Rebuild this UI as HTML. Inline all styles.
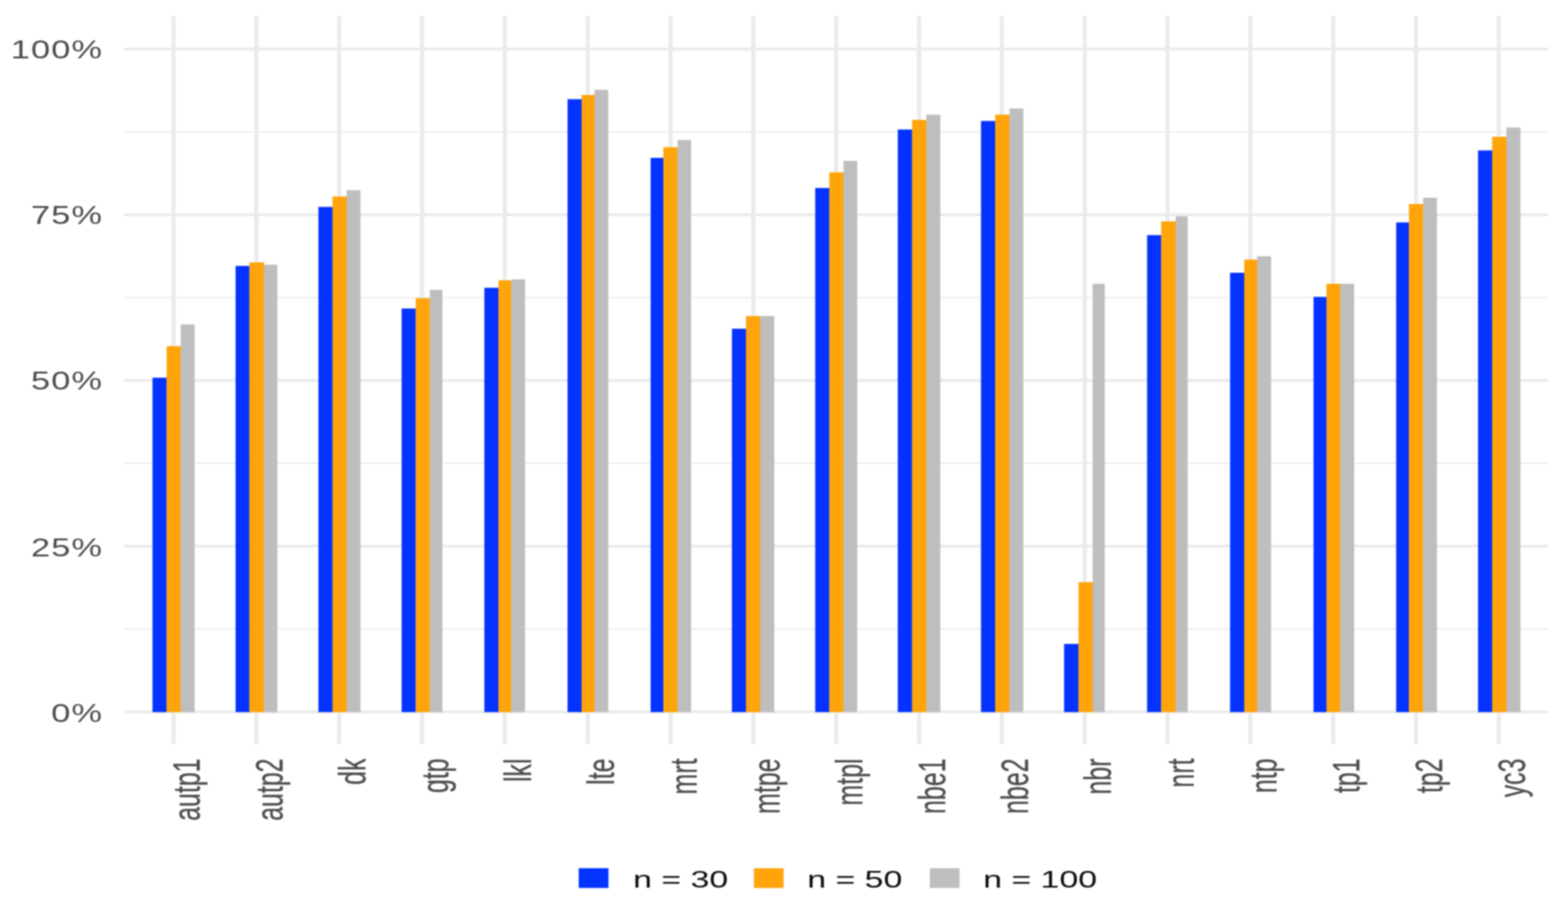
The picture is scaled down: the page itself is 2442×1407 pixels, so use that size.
<!DOCTYPE html>
<html lang="en"><head><meta charset="utf-8"><title>Bar chart</title>
<style>
html,body{margin:0;padding:0;background:#fff;overflow:hidden}
body{width:2442px;height:1407px}
svg{display:block}
text{font-family:"Liberation Sans","DejaVu Sans",sans-serif}
.ax{font-size:38.9px;fill:#4d4d4d;stroke:#4d4d4d;stroke-width:0.3;stroke-linejoin:round}
.ay{font-size:41.2px;letter-spacing:1.35px;stroke:#4d4d4d;stroke-width:0;stroke-linejoin:round}
.lg{font-size:37px;fill:#0d0d0d;stroke:#0d0d0d;stroke-width:0;stroke-linejoin:round}
</style></head><body>
<svg width="2442" height="1407" viewBox="0 0 2442 1407">
<defs><filter id="soft" x="-2%" y="-2%" width="104%" height="104%" color-interpolation-filters="sRGB"><feGaussianBlur stdDeviation="0.8"/></filter><filter id="softt" x="-5%" y="-5%" width="110%" height="110%" color-interpolation-filters="sRGB"><feGaussianBlur stdDeviation="0.8"/></filter></defs>
<rect x="0" y="0" width="2442" height="1407" fill="#ffffff"/>
<g filter="url(#soft)">
<g fill="#ebebeb">
<rect x="193.6" y="204.50" width="2217.4" height="2.00"/>
<rect x="193.6" y="462.70" width="2217.4" height="2.00"/>
<rect x="193.6" y="720.90" width="2217.4" height="2.00"/>
<rect x="193.6" y="979.10" width="2217.4" height="2.00"/>
<rect x="193.6" y="74.10" width="2217.4" height="4.60"/>
<rect x="193.6" y="332.30" width="2217.4" height="4.60"/>
<rect x="193.6" y="590.50" width="2217.4" height="4.60"/>
<rect x="193.6" y="848.70" width="2217.4" height="4.60"/>
<rect x="193.6" y="1106.90" width="2217.4" height="4.60"/>
<rect x="267.00" y="25.2" width="6.60" height="1134.5"/>
<rect x="396.00" y="25.2" width="6.60" height="1134.5"/>
<rect x="525.00" y="25.2" width="6.60" height="1134.5"/>
<rect x="654.00" y="25.2" width="6.60" height="1134.5"/>
<rect x="783.00" y="25.2" width="6.60" height="1134.5"/>
<rect x="912.00" y="25.2" width="6.60" height="1134.5"/>
<rect x="1041.00" y="25.2" width="6.60" height="1134.5"/>
<rect x="1170.00" y="25.2" width="6.60" height="1134.5"/>
<rect x="1299.00" y="25.2" width="6.60" height="1134.5"/>
<rect x="1428.00" y="25.2" width="6.60" height="1134.5"/>
<rect x="1557.00" y="25.2" width="6.60" height="1134.5"/>
<rect x="1686.00" y="25.2" width="6.60" height="1134.5"/>
<rect x="1815.00" y="25.2" width="6.60" height="1134.5"/>
<rect x="1944.00" y="25.2" width="6.60" height="1134.5"/>
<rect x="2073.00" y="25.2" width="6.60" height="1134.5"/>
<rect x="2202.00" y="25.2" width="6.60" height="1134.5"/>
<rect x="2331.00" y="25.2" width="6.60" height="1134.5"/>
</g>
<g fill="#0433ff">
<rect x="237.5" y="588.5" width="22.2" height="521.1"/>
<rect x="366.9" y="414.3" width="21.8" height="695.3"/>
<rect x="495.9" y="322.4" width="22.2" height="787.2"/>
<rect x="625.5" y="480.7" width="22.2" height="628.9"/>
<rect x="754.3" y="448.4" width="22.4" height="661.2"/>
<rect x="883.9" y="154.5" width="22.2" height="955.1"/>
<rect x="1013.3" y="246.0" width="20.1" height="863.6"/>
<rect x="1139.9" y="512.2" width="22.2" height="597.4"/>
<rect x="1269.6" y="292.9" width="22.2" height="816.7"/>
<rect x="1398.2" y="201.8" width="22.6" height="907.8"/>
<rect x="1527.8" y="188.5" width="22.4" height="921.1"/>
<rect x="1657.2" y="1003.3" width="22.7" height="106.3"/>
<rect x="1786.5" y="366.4" width="22.2" height="743.2"/>
<rect x="1915.7" y="425.0" width="22.4" height="684.6"/>
<rect x="2045.7" y="462.6" width="20.4" height="647.0"/>
<rect x="2174.4" y="346.6" width="20.2" height="763.0"/>
<rect x="2301.9" y="234.4" width="22.3" height="875.2"/>
</g>
<g fill="#ffa40a">
<rect x="259.4" y="539.4" width="22.4" height="570.2"/>
<rect x="388.4" y="408.8" width="22.8" height="700.8"/>
<rect x="517.8" y="306.2" width="22.4" height="803.4"/>
<rect x="647.4" y="464.7" width="22.4" height="644.9"/>
<rect x="776.4" y="436.8" width="20.1" height="672.8"/>
<rect x="905.8" y="147.9" width="20.3" height="961.7"/>
<rect x="1033.1" y="229.4" width="22.4" height="880.2"/>
<rect x="1161.8" y="492.5" width="22.4" height="617.1"/>
<rect x="1291.5" y="268.5" width="22.4" height="841.1"/>
<rect x="1420.5" y="186.8" width="22.4" height="922.8"/>
<rect x="1549.9" y="178.6" width="22.5" height="931.0"/>
<rect x="1679.6" y="907.1" width="22.4" height="202.5"/>
<rect x="1808.4" y="344.9" width="22.9" height="764.7"/>
<rect x="1937.8" y="404.4" width="20.3" height="705.2"/>
<rect x="2065.8" y="442.2" width="21.8" height="667.4"/>
<rect x="2194.3" y="317.9" width="22.4" height="791.7"/>
<rect x="2323.9" y="213.1" width="22.4" height="896.5"/>
</g>
<g fill="#bebebe">
<rect x="281.5" y="505.6" width="21.5" height="604.0"/>
<rect x="410.9" y="412.5" width="21.1" height="697.1"/>
<rect x="539.9" y="296.4" width="21.5" height="813.2"/>
<rect x="669.5" y="451.6" width="19.5" height="658.0"/>
<rect x="796.2" y="435.3" width="21.5" height="674.3"/>
<rect x="925.8" y="139.9" width="21.5" height="969.7"/>
<rect x="1055.2" y="218.3" width="21.1" height="891.3"/>
<rect x="1183.9" y="492.5" width="22.0" height="617.1"/>
<rect x="1313.6" y="250.7" width="21.5" height="858.9"/>
<rect x="1442.6" y="178.6" width="21.9" height="931.0"/>
<rect x="1572.1" y="169.0" width="21.6" height="940.6"/>
<rect x="1701.7" y="442.2" width="18.9" height="667.4"/>
<rect x="1831.0" y="337.1" width="18.7" height="772.5"/>
<rect x="1957.8" y="399.3" width="21.8" height="710.3"/>
<rect x="2087.3" y="442.2" width="21.7" height="667.4"/>
<rect x="2216.4" y="308.1" width="21.5" height="801.5"/>
<rect x="2346.0" y="198.7" width="21.9" height="910.9"/>
</g>
<rect x="901.3" y="1352.8" width="46.3" height="30.8" fill="#0433ff"/>
<rect x="1174.1" y="1352.8" width="46.3" height="30.8" fill="#ffa40a"/>
<rect x="1448.1" y="1352.8" width="46.3" height="30.8" fill="#bebebe"/>
</g>
<g filter="url(#softt)">
<g class="ax ay" text-anchor="end">
<text transform="translate(160.6 91.2) scale(1.3 1)">100%</text>
<text transform="translate(160.6 349.2) scale(1.3 1)">75%</text>
<text transform="translate(160.6 607.2) scale(1.3 1)">50%</text>
<text transform="translate(160.6 867.2) scale(1.3 1)">25%</text>
<text transform="translate(160.6 1125.0) scale(1.3 1)">0%</text>
</g>
<g class="ax" text-anchor="end">
<text transform="translate(311.1 1181.8) scale(1.535 1) rotate(-90)">autp1</text>
<text transform="translate(440.1 1181.8) scale(1.535 1) rotate(-90)">autp2</text>
<text transform="translate(569.1 1181.8) scale(1.535 1) rotate(-90)">dk</text>
<text transform="translate(698.1 1181.8) scale(1.535 1) rotate(-90)">gtp</text>
<text transform="translate(827.1 1181.8) scale(1.535 1) rotate(-90)">lkl</text>
<text transform="translate(956.1 1181.8) scale(1.535 1) rotate(-90)">lte</text>
<text transform="translate(1085.1 1181.8) scale(1.535 1) rotate(-90)">mrt</text>
<text transform="translate(1214.1 1181.8) scale(1.535 1) rotate(-90)">mtpe</text>
<text transform="translate(1343.1 1181.8) scale(1.535 1) rotate(-90)">mtpl</text>
<text transform="translate(1472.1 1181.8) scale(1.535 1) rotate(-90)">nbe1</text>
<text transform="translate(1601.1 1181.8) scale(1.535 1) rotate(-90)">nbe2</text>
<text transform="translate(1730.1 1181.8) scale(1.535 1) rotate(-90)">nbr</text>
<text transform="translate(1859.1 1181.8) scale(1.535 1) rotate(-90)">nrt</text>
<text transform="translate(1988.1 1181.8) scale(1.535 1) rotate(-90)">ntp</text>
<text transform="translate(2117.1 1181.8) scale(1.535 1) rotate(-90)">tp1</text>
<text transform="translate(2246.1 1181.8) scale(1.535 1) rotate(-90)">tp2</text>
<text transform="translate(2375.1 1181.8) scale(1.535 1) rotate(-90)">yc3</text>
</g>
<g class="lg">
<text transform="translate(986.0 1382.5) scale(1.425 1)" xml:space="preserve">n = 30</text>
<text transform="translate(1257.2 1382.5) scale(1.425 1)" xml:space="preserve">n = 50</text>
<text transform="translate(1531.2 1382.5) scale(1.425 1)" xml:space="preserve">n = 100</text>
</g>
</g>
</svg>
</body></html>
